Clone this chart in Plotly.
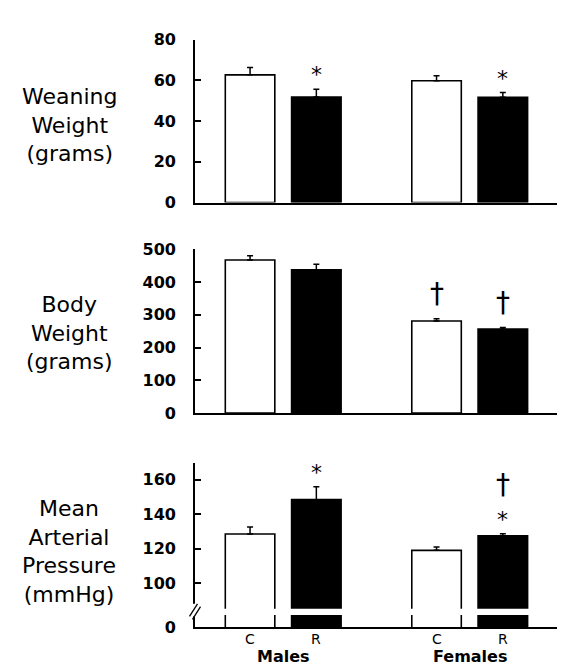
import plotly.graph_objects as go

# ---------------- data ----------------
groups = ["Males", "Females"]
conditions = ["C", "R"]

weaning_c = [62.7, 59.8]
weaning_c_err = [3.6, 2.5]
weaning_r = [51.8, 51.7]
weaning_r_err = [3.8, 2.3]

body_c = [467, 281]
body_c_err = [13, 7]
body_r = [437, 256]
body_r_err = [17, 5]

map_c = [128.5, 119.0]
map_c_err = [4.0, 2.0]
map_r = [148.4, 127.4]
map_r_err = [7.5, 1.2]

panel_titles = ["Weaning<br>Weight<br>(grams)",
                "Body<br>Weight<br>(grams)",
                "Mean<br>Arterial<br>Pressure<br>(mmHg)"]

# significance markers: (panel, condition, group index, symbols bottom->top)
markers = [
    (0, "R", 0, ["*"]),
    (0, "R", 1, ["*"]),
    (1, "C", 1, ["†"]),
    (1, "R", 1, ["†"]),
    (2, "R", 0, ["*"]),
    (2, "R", 1, ["*", "†"]),
]

# axis settings
ranges = [[0, 80], [0, 500], [74.35, 169.5]]
MAP_AXIS_BREAK_ZERO = 74.35          # bottom of broken axis, labelled "0"
tickvals = [[0, 20, 40, 60, 80], [0, 100, 200, 300, 400, 500],
            [MAP_AXIS_BREAK_ZERO, 100, 120, 140, 160]]
ticktext = [["0", "20", "40", "60", "80"],
            ["0", "100", "200", "300", "400", "500"],
            ["0", "100", "120", "140", "160"]]

# ---------------- layout geometry ----------------
W, H = 565, 667
L = 187
domains_px = [(23.3, 191.0), (239.0, 407.7), (459.3, 628.3)]
BARGAP = 0.289
BARGROUPGAP = 0.253
OFF = (1 - BARGAP) / 4  # half-slot offset in category units

FONT = "DejaVu Sans"


def py2paper(py):
    return (H - py) / H


def px2paper(px):
    return (px - L) / (W - L)


fig = go.Figure()

panel_data = [
    (weaning_c, weaning_c_err, weaning_r, weaning_r_err),
    (body_c, body_c_err, body_r, body_r_err),
    (map_c, map_c_err, map_r, map_r_err),
]

for p, (cv, ce, rv, re) in enumerate(panel_data):
    xa = "x" if p == 0 else f"x{p+1}"
    ya = "y" if p == 0 else f"y{p+1}"
    for cond, vals, errs, fill in (("C", cv, ce, "white"), ("R", rv, re, "black")):
        fig.add_trace(go.Bar(
            x=groups, y=vals, name=cond, xaxis=xa, yaxis=ya,
            marker=dict(color=fill, line=dict(color="black", width=1.6)),
            error_y=dict(type="data", array=errs, arrayminus=[0] * len(errs),
                         symmetric=False, color="black", thickness=1.5, width=3),
            offsetgroup=cond, showlegend=False, hoverinfo="skip",
        ))

layout = dict(
    width=W, height=H,
    margin=dict(l=L, r=0, t=0, b=0),
    paper_bgcolor="white", plot_bgcolor="white",
    barmode="group", bargap=BARGAP, bargroupgap=BARGROUPGAP,
    font=dict(family=FONT, color="black"),
    showlegend=False,
)

for p in range(3):
    sfx = "" if p == 0 else str(p + 1)
    top, bot = domains_px[p]
    layout["xaxis" + sfx] = dict(
        domain=[0, 1], range=[-0.473, 1.554], type="category",
        categoryorder="array", categoryarray=groups,
        showline=True, linecolor="black", linewidth=1.6,
        showticklabels=False, ticks="", showgrid=False, zeroline=False,
        anchor="y" + sfx, fixedrange=True,
    )
    layout["yaxis" + sfx] = dict(
        domain=[py2paper(bot), py2paper(top)], range=ranges[p],
        tickvals=tickvals[p], ticktext=ticktext[p],
        ticks="inside", ticklen=6, tickwidth=1.5, tickcolor="black",
        showline=True, linecolor="black", linewidth=1.6,
        showgrid=False, zeroline=False,
        tickfont=dict(family=FONT, size=16, color="black", weight="bold"),
        ticklabelstandoff=14,
        anchor="x" + sfx, fixedrange=True,
    )

fig.update_layout(**layout)

annotations = []
# panel titles
for p in range(3):
    top, bot = domains_px[p]
    extra = [4, 2, 6][p]
    annotations.append(dict(
        text=panel_titles[p], xref="paper", yref="paper",
        x=px2paper(61), y=py2paper((top + bot) / 2 + extra),
        xanchor="center", yanchor="middle", showarrow=False,
        font=dict(family=FONT, size=22, color="black"),
    ))

# significance markers
series = {0: {"C": (weaning_c, weaning_c_err), "R": (weaning_r, weaning_r_err)},
          1: {"C": (body_c, body_c_err), "R": (body_r, body_r_err)},
          2: {"C": (map_c, map_c_err), "R": (map_r, map_r_err)}}
for p, cond, gi, syms in markers:
    vals, errs = series[p][cond]
    ytop = vals[gi] + errs[gi]
    xpos = gi + (-OFF if cond == "C" else OFF)
    yref = "y" if p == 0 else f"y{p+1}"
    xref = "x" if p == 0 else f"x{p+1}"
    shift = 0
    for s in syms:
        if s == "*":
            size, ys = 22, shift
            shift += 24
        else:
            size, ys = 28, shift + 7
            shift += 34
        annotations.append(dict(
            text=s, x=xpos, y=ytop, xref=xref, yref=yref,
            xanchor="center", yanchor="bottom", yshift=ys, showarrow=False,
            font=dict(family=FONT, size=size, color="black"),
        ))

# category labels under the bottom panel
for gi, g in enumerate(groups):
    for cond, sign in (("C", -1), ("R", 1)):
        annotations.append(dict(
            text=cond, x=gi + sign * OFF, y=0, xref="x3", yref="y3 domain",
            xanchor="center", yanchor="middle", yshift=-12, showarrow=False,
            font=dict(family=FONT, size=14, color="black"),
        ))
    annotations.append(dict(
        text=g, x=gi, y=0, xref="x3", yref="y3 domain",
        xanchor="center", yanchor="middle", yshift=-29, showarrow=False,
        font=dict(family=FONT, size=16, color="black", weight="bold"),
    ))

fig.update_layout(annotations=annotations)

# axis break decorations on bottom panel
shapes = [
    # white strip through the bars
    dict(type="rect", xref="paper", yref="paper",
         x0=px2paper(190), x1=1.0, y0=py2paper(615.5), y1=py2paper(609),
         fillcolor="white", line=dict(width=0), layer="above"),
    # gap in the y axis line
    dict(type="rect", xref="paper", yref="paper",
         x0=px2paper(183), x1=px2paper(191), y0=py2paper(617), y1=py2paper(604),
         fillcolor="white", line=dict(width=0), layer="above"),
    # break slashes
    dict(type="line", xref="paper", yref="paper",
         x0=px2paper(181.5), y0=py2paper(617), x1=px2paper(189.5), y1=py2paper(604),
         line=dict(color="black", width=1.3), layer="above"),
    dict(type="line", xref="paper", yref="paper",
         x0=px2paper(184.5), y0=py2paper(620), x1=px2paper(192.5), y1=py2paper(607),
         line=dict(color="black", width=1.3), layer="above"),
]
fig.update_layout(shapes=shapes)

fig.write_html("out.html")
